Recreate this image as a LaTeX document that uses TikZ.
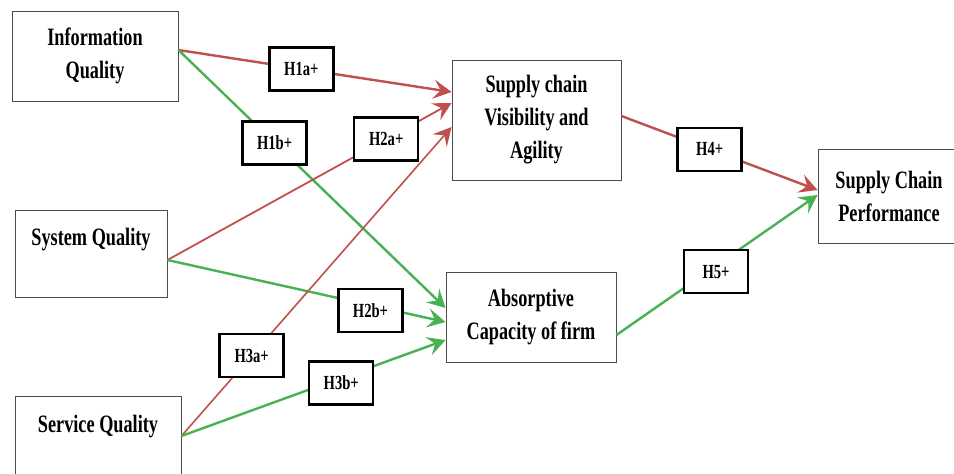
\documentclass[tikz,border=0pt]{standalone}
\usepackage{fontspec}
\setmainfont{Liberation Serif}
\newfontfamily\diagfont[FakeStretch=0.73]{Liberation Serif}
\usepackage{tikz}
\usetikzlibrary{arrows.meta,positioning}
\definecolor{hypred}{RGB}{192,80,77}
\definecolor{hypgreen}{RGB}{72,178,82}

\begin{document}
\begin{tikzpicture}[x=1pt,y=-1pt,
    box/.style={draw=black!70,line width=0.9pt,fill=white,align=center,inner sep=0pt,
      font=\diagfont\bfseries\fontsize{25}{33}\selectfont},
    hyp/.style={draw=black,line width=2.5pt,fill=white,minimum width=64pt,minimum height=43pt,
      inner sep=0pt,font=\diagfont\bfseries\fontsize{20}{22}\selectfont},
    redlink/.style={draw=hypred,line width=2.4pt,-{Stealth[length=18pt,width=19pt,inset=7pt]}},
    greenlink/.style={draw=hypgreen,line width=2.4pt,-{Stealth[length=18pt,width=19pt,inset=7pt]}}]
  \useasboundingbox (0,0) rectangle (954,474);

  \node[box,minimum width=166pt,minimum height=90pt] (info) at (95,56) {Information\\Quality};
  \node[box,minimum width=152pt,minimum height=87pt] (sys) at (91,253.5) {System Quality\\\mbox{}};
  \node[box,minimum width=166pt,minimum height=88pt] (serv) at (98,440) {Service Quality\\\mbox{}};
  \node[box,minimum width=169pt,minimum height=120pt] (vis) at (536.5,120) {Supply chain\\Visibility and\\Agility};
  \node[box,minimum width=170pt,minimum height=90pt] (abs) at (531,317) {Absorptive\\Capacity of firm};
  \node[box,minimum width=142pt,minimum height=94pt] (scp) at (889,196) {Supply Chain\\Performance};

  % first stage
  \draw[redlink] ([yshift=6pt]info.east) -- node[hyp,pos=0.45] (h1a) {H1a+} ([yshift=28pt]vis.west);
  \draw[greenlink] ([yshift=6pt]info.east) -- node[hyp,pos=0.36] (h1b) {H1b+} ([yshift=9pt]abs.west);
  \draw[redlink,line width=1.8pt] ([yshift=-6.5pt]sys.east) -- node[hyp,pos=0.77] (h2a) {H2a+} ([yshift=17pt]vis.west);
  \draw[greenlink] ([yshift=-6.5pt]sys.east) -- node[hyp,pos=0.73,yshift=-5pt] (h2b) {H2b+} ([yshift=-5pt]abs.west);
  \draw[redlink,line width=1.6pt] ([yshift=4pt]serv.east) -- node[hyp,pos=0.26] (h3a) {H3a+} ([yshift=-7pt]vis.west);
  \draw[greenlink] ([yshift=4pt]serv.east) -- node[hyp,pos=0.605,yshift=-5pt] (h3b) {H3b+} ([yshift=-23pt]abs.west);

  % second stage
  \draw[redlink] ([yshift=4pt]vis.east) -- node[hyp,pos=0.45] (h4) {H4+} ([yshift=6pt]scp.west);
  \draw[greenlink] ([yshift=-18pt]abs.east) -- node[hyp,pos=0.495,yshift=-6pt] (h5) {H5+} ([yshift=1pt]scp.west);
\end{tikzpicture}
\end{document}
